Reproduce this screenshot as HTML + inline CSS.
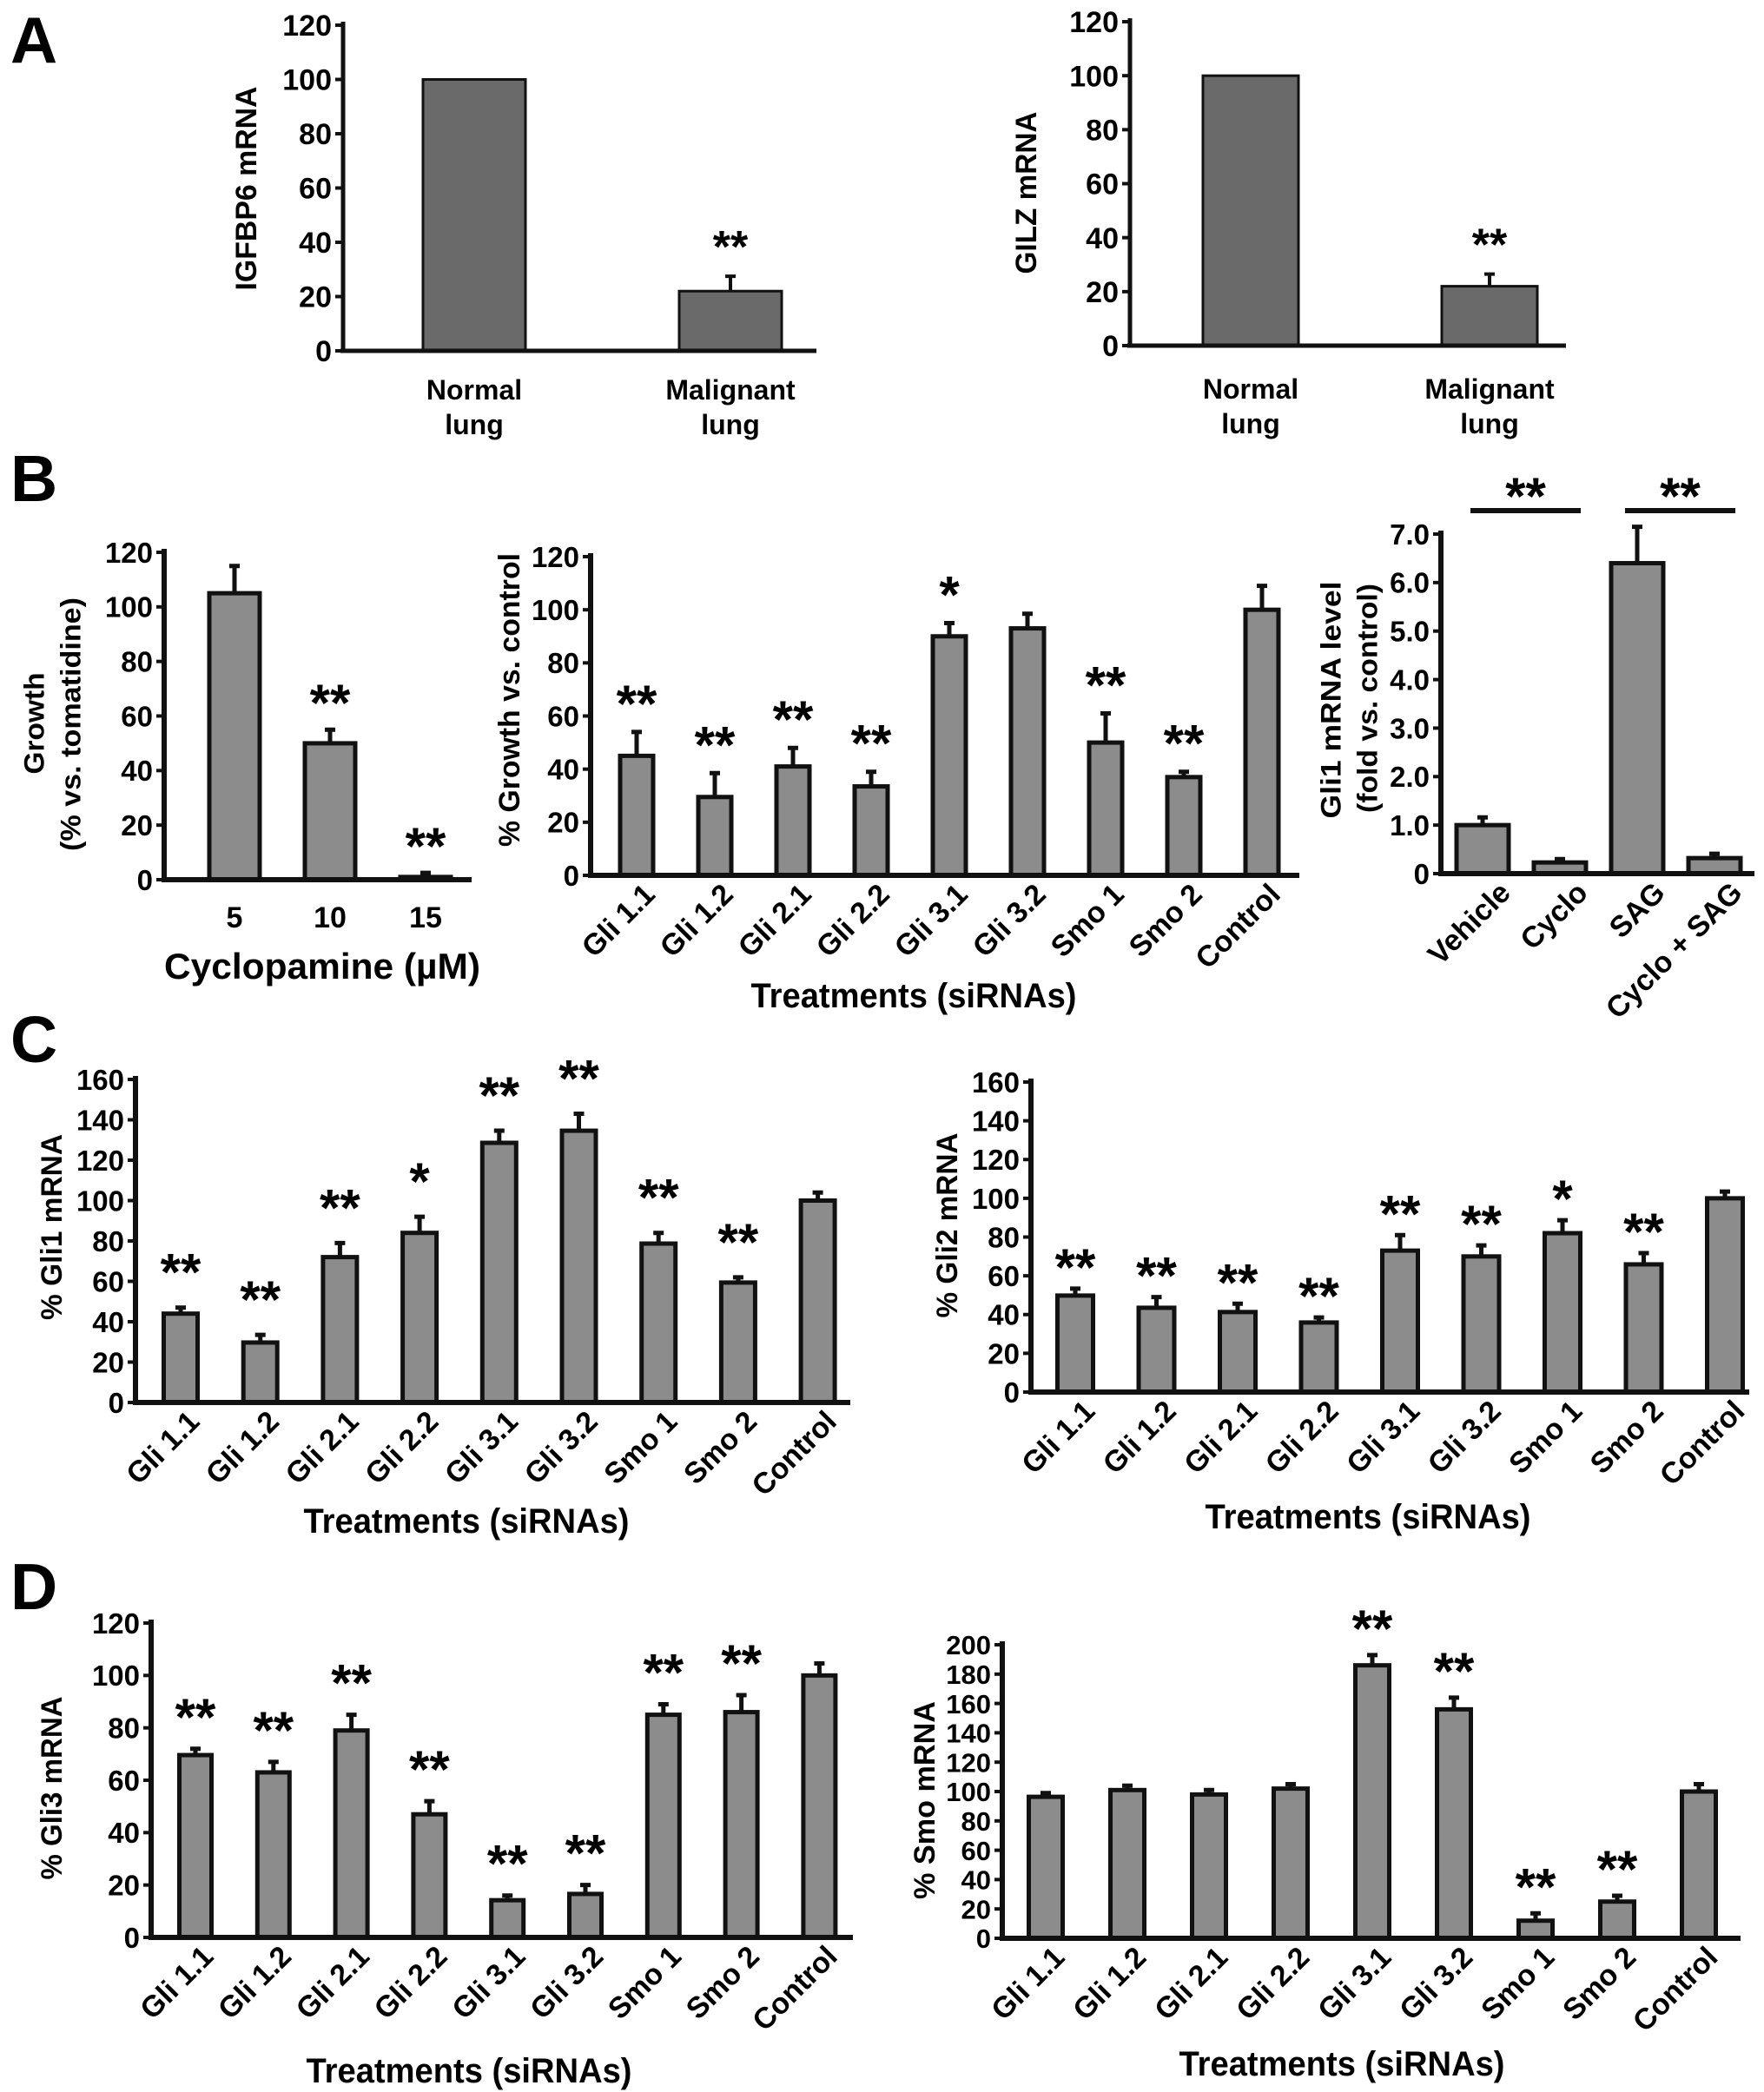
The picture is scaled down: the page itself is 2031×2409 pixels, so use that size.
<!DOCTYPE html>
<html><head><meta charset="utf-8"><style>
html,body{margin:0;padding:0;background:#fff;}
svg{display:block;font-family:"Liberation Sans",Arial,sans-serif;font-weight:bold;}
</style></head><body>
<svg id="fig" xmlns="http://www.w3.org/2000/svg" width="2031" height="2409" viewBox="0 0 2031 2409">
<rect width="2031" height="2409" fill="#fff"/>
<text x="12" y="72" font-size="75">A</text>
<text x="12" y="577" font-size="75">B</text>
<text x="12" y="1223" font-size="75">C</text>
<text x="12" y="1853" font-size="75">D</text>
</svg>
<script>
// ---- data ----
const lungCats = [["Normal","lung"],["Malignant","lung"]];
const igfbpVals = [100, 22];
const igfbpErr = [100, 27.5];
const igfbpStars = ["", "**"];
const gilzVals = [100, 22];
const gilzErr = [100, 26.5];
const gilzStars = ["", "**"];
const ticks120 = [0,20,40,60,80,100,120];
const ticks120Labels = ["0","20","40","60","80","100","120"];

const cycloCats = ["5","10","15"];
const cycloVals = [105, 50, 1];
const cycloErr = [115, 55, 2.5];
const cycloStars = ["", "**", "**"];

const sirnaCats = ["Gli 1.1","Gli 1.2","Gli 2.1","Gli 2.2","Gli 3.1","Gli 3.2","Smo 1","Smo 2","Control"];
const growthVals = [45, 29.5, 41, 33.5, 90, 93, 50, 37, 100];
const growthErr = [54, 38.5, 48, 39, 95, 98.5, 61, 39, 109];
const growthStars = ["**","**","**","**","*","","**","**",""];

const sagCats = ["Vehicle","Cyclo","SAG","Cyclo + SAG"];
const sagVals = [1.0, 0.23, 6.4, 0.32];
const sagErr = [1.16, 0.3, 7.15, 0.41];
const sagTicks = [0,1,2,3,4,5,6,7];
const sagTickLabels = ["0","1.0","2.0","3.0","4.0","5.0","6.0","7.0"];
const sagBrackets = [[0,1],[2,3]];
const sagBracketStars = ["**","**"];

const ticks160 = [0,20,40,60,80,100,120,140,160];
const ticks160Labels = ["0","20","40","60","80","100","120","140","160"];
const gli1Vals = [44, 29.7, 72, 84, 128.6, 134.6, 78.7, 59.4, 100];
const gli1Err = [47, 33.5, 79, 92, 134.6, 143, 84, 62, 104];
const gli1Stars = ["**","**","**","*","**","**","**","**",""];
const gli2Vals = [49.8, 43.5, 41.3, 35.9, 73, 70, 82, 65.9, 100];
const gli2Err = [53.4, 49, 45.6, 38.5, 81, 75.7, 88.7, 71.7, 103.5];
const gli2Stars = ["**","**","**","**","**","**","*","**",""];
const gli3Vals = [69.6, 63, 79, 47, 14.2, 16.6, 85, 86, 100];
const gli3Err = [72, 67, 85, 52, 16, 20, 89, 92.5, 104.6];
const gli3Stars = ["**","**","**","**","**","**","**","**",""];
const ticks200 = [0,20,40,60,80,100,120,140,160,180,200];
const ticks200Labels = ["0","20","40","60","80","100","120","140","160","180","200"];
const smoVals = [96.4, 101, 98, 102, 186, 156, 12, 25, 100];
const smoErr = [99, 104, 101, 105, 193, 164, 17, 29, 105];
const smoStars = ["","","","","**","**","**","**",""];

// ---- drawing ----
const NS = "http://www.w3.org/2000/svg";
const svg = document.getElementById("fig");
function mk(tag, attrs, parent){
  const e = document.createElementNS(NS, tag);
  for (const k in attrs) e.setAttribute(k, attrs[k]);
  (parent||svg).appendChild(e);
  return e;
}

function chart(o, vals, errs, stars, ticks, tickLabels, cats){
  const g = mk("g", {});
  
  
  const maxV = ticks[ticks.length-1];
  const ys = v => o.y0 - (v/maxV)*(o.y0 - o.yTop);
  const xs = i => o.c0 + i*o.step;
  vals.forEach((v,i)=>{
    const top = ys(v);
    const r = mk("rect", {x: xs(i)-o.bw/2, y: top, width: o.bw, height: Math.max(0,o.y0-top), fill: o.fill, stroke:"#111", "stroke-width": o.sw}, g);
    
    
    if (errs[i] > v + 0.01){
      const eb = mk("path", {d:`M${xs(i)},${top} V${ys(errs[i])} M${xs(i)-6},${ys(errs[i])} H${xs(i)+6}`, stroke:"#111", "stroke-width": o.esw, fill:"none"}, g);
      
      
    }
    if (stars[i]){
      const st = mk("text", {x: xs(i), y: ys(errs[i]) - o.starGap + o.starFs*0.5, "font-size": o.starFs, "text-anchor":"middle"}, g);
      st.textContent = stars[i];
      
      
    }
  });
  const ya = mk("line", {x1:o.x0, y1:o.yTop-4, x2:o.x0, y2:o.y0, stroke:"#111", "stroke-width": o.asw}, g);
  
  
  const xa = mk("line", {x1:o.x0-3, y1:o.y0, x2:o.xEnd, y2:o.y0, stroke:"#111", "stroke-width": o.asw}, g);
  
  
  ticks.forEach((t,i)=>{
    const y = ys(t);
    const tk = mk("line", {x1:o.x0-9, y1:y, x2:o.x0, y2:y, stroke:"#111", "stroke-width":4}, g);
    
    
    const tl = mk("text", {x:o.x0-13, y:y+o.tickFs*0.36, "font-size":o.tickFs, "text-anchor":"end"}, g);
    tl.textContent = tickLabels[i];
    
    
  });
  cats.forEach((c,i)=>{
    if (o.rot){
      const px = xs(i) + o.bw/2 + 4, py = o.y0 + 24;
      const t = mk("text", {x:px, y:py, "font-size":o.catFs, "text-anchor":"end", transform:`rotate(-45 ${px} ${py})`}, g);
      t.textContent = c;
      
      
    } else {
      const lines = Array.isArray(c) ? c : [c];
      lines.forEach((ln,j)=>{
        const t = mk("text", {x:xs(i), y:o.catY + j*o.catLH, "font-size":o.catFs, "text-anchor":"middle"}, g);
        t.textContent = ln;
        
        
      });
    }
  });
  o.ytitles.forEach(yt=>{
    const bx = yt.cx + yt.fs*0.36;
    const t = mk("text", {x:bx, y:yt.cy, "font-size":yt.fs, "text-anchor":"middle", textLength:yt.len, lengthAdjust:"spacingAndGlyphs", transform:`rotate(-90 ${bx} ${yt.cy})`}, g);
    t.textContent = yt.text;
    
    
  });
  if (o.xtitle){
    const t = mk("text", {x:o.xtitle.cx, y:o.xtitle.y, "font-size":o.xtitle.fs, "text-anchor":"middle", textLength:o.xtitle.len, lengthAdjust:"spacingAndGlyphs"}, g);
    t.textContent = o.xtitle.text;
    
    
  }
  return {ys, xs, g};
}

const darkA = "#6a6a6a", grey = "#8c8c8c";
const baseA = {fill:darkA, sw:3, esw:4, asw:5, tickFs:34, catFs:32, catLH:40, starFs:52, starGap:42, rot:false};

chart(Object.assign({}, baseA, {name:"igfbp6-chart", x0:395, y0:404, yTop:29, xEnd:940, c0:546, step:295, bw:118, catY:460,
  ytitles:[{text:"IGFBP6 mRNA", cx:283, cy:217, fs:34, len:235}]}), igfbpVals, igfbpErr, igfbpStars, ticks120, ticks120Labels, lungCats);

chart(Object.assign({}, baseA, {name:"gilz-chart", x0:1301, y0:398, yTop:25, xEnd:1803, c0:1440, step:275, bw:110, catY:459,
  ytitles:[{text:"GILZ mRNA", cx:1181, cy:222, fs:34, len:187}]}), gilzVals, gilzErr, gilzStars, ticks120, ticks120Labels, lungCats);

const baseB = {fill:grey, sw:5, esw:5, asw:6, tickFs:33, catFs:34, starFs:60, starGap:40};

chart(Object.assign({}, baseB, {name:"cyclopamine-chart", x0:189, y0:1013, yTop:636, xEnd:543, c0:270, step:110, bw:58, rot:false, catY:1068, catLH:0,
  ytitles:[{text:"Growth", cx:39, cy:833, fs:32, len:117},{text:"(% vs. tomatidine)", cx:81, cy:834, fs:32, len:292}],
  xtitle:{text:"Cyclopamine (\u00b5M)", cx:371, y:1127, fs:42, len:364}}), cycloVals, cycloErr, cycloStars, ticks120, ticks120Labels, cycloCats);

chart(Object.assign({}, baseB, {name:"growth-sirna-chart", x0:680, y0:1008, yTop:641, xEnd:1496, c0:733, step:90, bw:38, rot:true, starGap:42,
  ytitles:[{text:"% Growth vs. control", cx:586, cy:806, fs:34, len:338}],
  xtitle:{text:"Treatments (siRNAs)", cx:1052, y:1160, fs:40, len:375}}), growthVals, growthErr, growthStars, ticks120, ticks120Labels, sirnaCats);

const b3 = chart(Object.assign({}, baseB, {name:"gli1-sag-chart", x0:1659, y0:1006, yTop:615, xEnd:2020, c0:1707, step:89, bw:60, rot:true, starGap:40,
  ytitles:[{text:"Gli1 mRNA level", cx:1532, cy:806, fs:32, len:273},{text:"(fold vs. control)", cx:1574, cy:804, fs:32, len:264}]}),
  sagVals, sagErr, ["","","",""], sagTicks, sagTickLabels, sagCats);
sagBrackets.forEach((br,k)=>{
  const x1 = b3.xs(br[0]) - 14, x2 = b3.xs(br[1]) + 24;
  const ln = mk("line", {x1:x1, y1:588, x2:x2, y2:588, stroke:"#111", "stroke-width":6});
  
  
  const st = mk("text", {x:(x1+x2)/2, y:592, "font-size":60, "text-anchor":"middle"});
  st.textContent = sagBracketStars[k];
  
  
});

chart(Object.assign({}, baseB, {name:"gli1-sirna-chart", x0:156, y0:1615, yTop:1243, xEnd:979, c0:208, step:91.7, bw:39, rot:true, starGap:50,
  ytitles:[{text:"% Gli1 mRNA", cx:59, cy:1413, fs:34, len:214}],
  xtitle:{text:"Treatments (siRNAs)", cx:537, y:1765, fs:40, len:375}}), gli1Vals, gli1Err, gli1Stars, ticks160, ticks160Labels, sirnaCats);

chart(Object.assign({}, baseB, {name:"gli2-sirna-chart", x0:1187, y0:1603, yTop:1246, xEnd:2014, c0:1238, step:93.5, bw:41, rot:true, starGap:34,
  ytitles:[{text:"% Gli2 mRNA", cx:1090, cy:1411, fs:34, len:213}],
  xtitle:{text:"Treatments (siRNAs)", cx:1575, y:1760, fs:40, len:375}}), gli2Vals, gli2Err, gli2Stars, ticks160, ticks160Labels, sirnaCats);

chart(Object.assign({}, baseB, {name:"gli3-sirna-chart", x0:174, y0:2231, yTop:1869, xEnd:982, c0:225, step:89.8, bw:37, rot:true, starGap:46,
  ytitles:[{text:"% Gli3 mRNA", cx:59, cy:2059, fs:34, len:211}],
  xtitle:{text:"Treatments (siRNAs)", cx:540, y:2398, fs:40, len:375}}), gli3Vals, gli3Err, gli3Stars, ticks120, ticks120Labels, sirnaCats);

chart(Object.assign({}, baseB, {name:"smo-sirna-chart", x0:1154, y0:2232, yTop:1894, xEnd:2004, c0:1204, step:94, bw:39, rot:true, starGap:40, tickFs:31,
  ytitles:[{text:"% Smo mRNA", cx:1064, cy:2073, fs:34, len:228}],
  xtitle:{text:"Treatments (siRNAs)", cx:1545, y:2390, fs:40, len:375}}), smoVals, smoErr, smoStars, ticks200, ticks200Labels, sirnaCats);
</script>
</body></html>
